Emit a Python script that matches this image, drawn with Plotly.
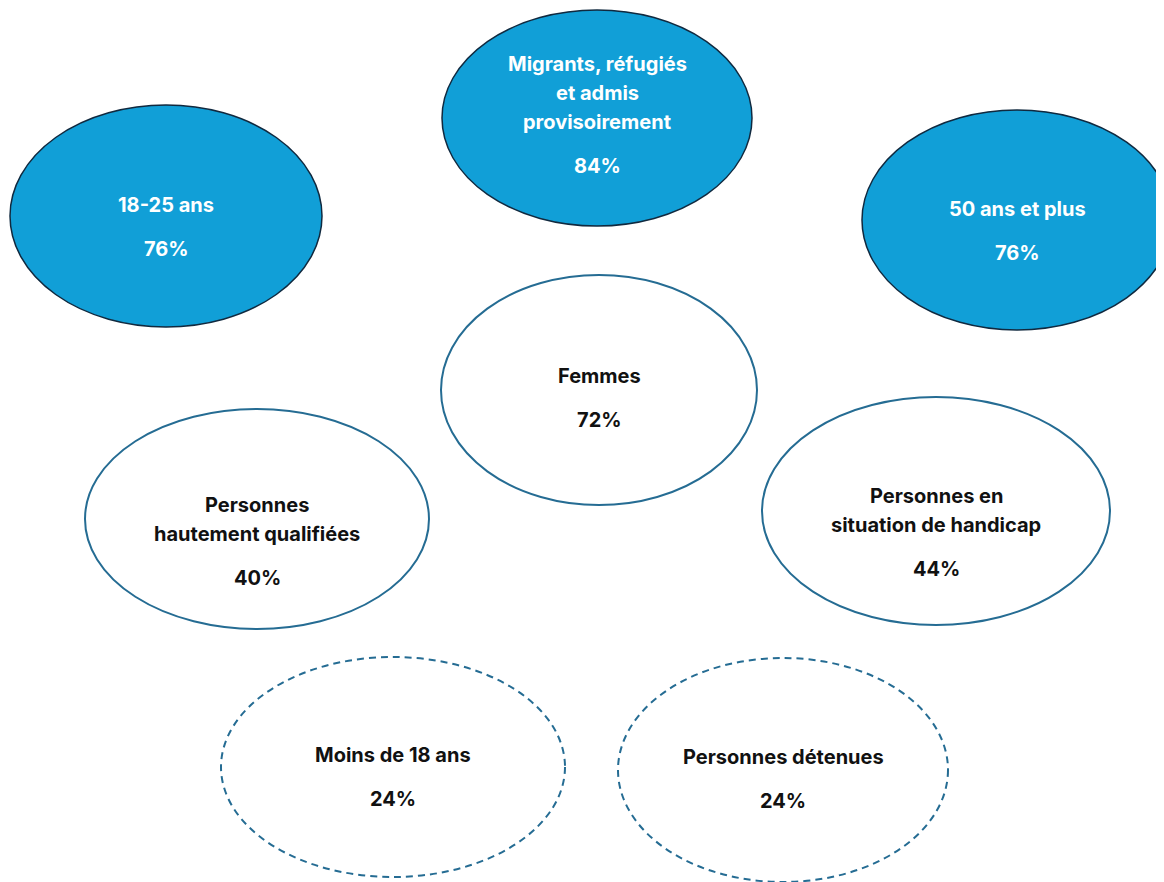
import plotly.graph_objects as go

# Data
labels = [
    "18-25 ans",
    "Migrants, réfugiés<br>et admis<br>provisoirement",
    "50 ans et plus",
    "Femmes",
    "Personnes<br>hautement qualifiées",
    "Personnes en<br>situation de handicap",
    "Moins de 18 ans",
    "Personnes détenues",
]
values = [76, 84, 76, 72, 40, 44, 24, 24]
groups = ["high", "high", "high", "mid", "mid", "mid", "low", "low"]

# Layout geometry (pixel-space positions of each ellipse: cx, cy, rx, ry, first text line y)
cx = [166, 597, 1017, 599, 257, 936, 393, 783]
cy = [216, 118, 220, 390, 519, 511, 767, 770]
rx = [156, 155, 155, 158, 172, 174, 172, 165]
ry = [111, 108, 110, 115, 110, 114, 110, 112]
text_y0 = [205, 64, 209, 376, 505, 496, 755, 757]

W, H = 1164, 882
OFF = 8  # page body margin
LINE = 29
GAP = 43

styles = {
    "high": dict(fill="#119FD7", line="#10293F", width=1.5, dash="solid", text="#FFFFFF"),
    "mid": dict(fill="#FFFFFF", line="#256C93", width=2, dash="solid", text="#111111"),
    "low": dict(fill="#FFFFFF", line="#256C93", width=2, dash="7px,5px", text="#111111"),
}

fig = go.Figure()
fig.add_trace(go.Scatter(x=[OFF, W], y=[OFF, H], mode="markers",
                         marker=dict(opacity=0), hoverinfo="skip", showlegend=False))

font_family = "Inter, 'Open Sans', sans-serif"
FS = 20
for lab, val, g, x, y, a, b, ty in zip(labels, values, groups, cx, cy, rx, ry, text_y0):
    s = styles[g]
    fig.add_shape(type="circle", xref="x", yref="y",
                  x0=x - a, x1=x + a, y0=y - b, y1=y + b,
                  fillcolor=s["fill"],
                  line=dict(color=s["line"], width=s["width"], dash=s["dash"]),
                  layer="below")
    lines = lab.split("<br>")
    for i, ln in enumerate(lines):
        fig.add_annotation(x=x, y=ty + i * LINE, xref="x", yref="y", text=f"<b>{ln}</b>",
                           showarrow=False, font=dict(family=font_family, size=FS, color=s["text"]),
                           xanchor="center", yanchor="middle")
    fig.add_annotation(x=x, y=ty + (len(lines) - 1) * LINE + GAP + 1, xref="x", yref="y",
                       text=f"<b>{val}%</b>", showarrow=False,
                       font=dict(family=font_family, size=FS, color=s["text"]),
                       xanchor="center", yanchor="middle")

PW = W  # plot width in pixels (starts at page x = OFF)
PH = H - OFF
fig.update_xaxes(range=[OFF, OFF + PW], visible=False, fixedrange=True)
fig.update_yaxes(range=[OFF + PH, OFF], visible=False, fixedrange=True)
fig.update_layout(width=PW, height=PH, margin=dict(l=0, r=0, t=0, b=0),
                  plot_bgcolor="white", paper_bgcolor="white", showlegend=False)

fig.write_html("out.html")
